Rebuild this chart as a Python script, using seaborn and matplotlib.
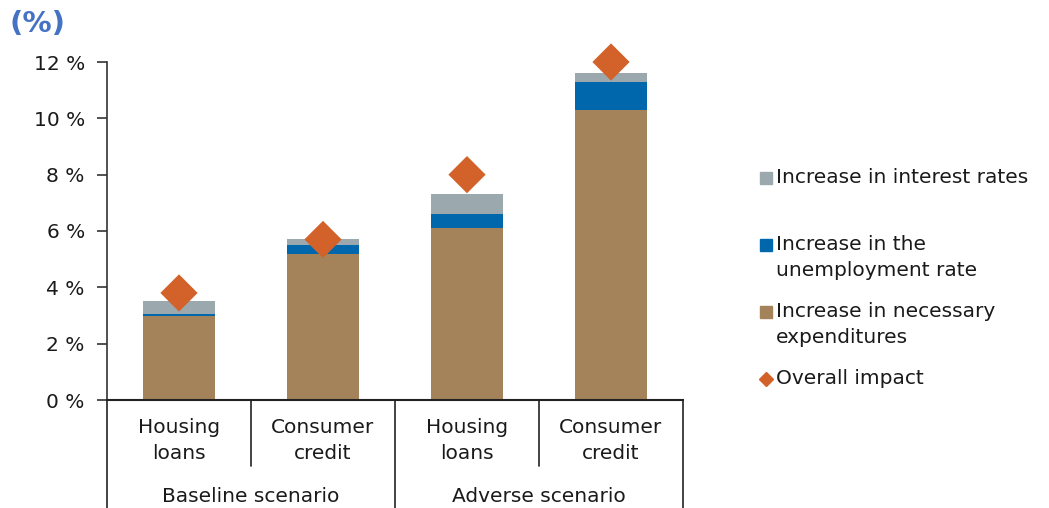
import matplotlib
matplotlib.use("Agg")
import matplotlib.pyplot as plt
import seaborn as sns
import pandas as pd
import numpy as np
from matplotlib.lines import Line2D

sns.set_theme(style="white")
plt.rcParams['font.family'] = ['DejaVu Sans']

categories = ["Housing\nloans", "Consumer\ncredit", "Housing\nloans ", "Consumer\ncredit "]
groups = ["Baseline scenario", "Adverse scenario"]
necessary = [3.0, 5.2, 6.1, 10.3]
unemployment = [0.07, 0.3, 0.5, 1.0]
interest = [0.43, 0.2, 0.7, 0.3]
overall = [3.8, 5.7, 8.0, 12.0]
yticks = [0, 2, 4, 6, 8, 10, 12]

col_int = "#9BA8AE"
col_unemp = "#0067AC"
col_nec = "#A5835A"
col_all = "#D2622A"

df = pd.DataFrame({
    "cat": categories,
    "nec": necessary,
    "nec_unemp": np.array(necessary) + np.array(unemployment),
    "total": np.array(necessary) + np.array(unemployment) + np.array(interest),
    "overall": overall,
})

FS = 14.5
TXT = "#1a1a1a"

fig = plt.figure(figsize=(10.49, 5.08), dpi=100)
ax = fig.add_axes([107/1049, 1-400/508, (683-107)/1049, (400-62)/508])

for col, c in [("total", col_int), ("nec_unemp", col_unemp), ("nec", col_nec)]:
    sns.barplot(data=df, x="cat", y=col, color=c, saturation=1, width=0.5,
                linewidth=0, ax=ax)
sns.scatterplot(data=df, x="cat", y="overall", marker="D", s=360, color=col_all,
                edgecolor="none", ax=ax, zorder=5, clip_on=False)

ax.set_xlim(-0.5, 3.5)
ax.set_ylim(0, 12)
ax.set_yticks(yticks)
ax.set_yticklabels([f"{v} %" for v in yticks], fontsize=FS, color=TXT)
ax.tick_params(axis="y", direction="out", length=7, width=1.2, color="#333333", pad=9, left=True)
ax.set_xticks([])
ax.set_xlabel("")
ax.set_ylabel("")
for s in ["top", "right"]:
    ax.spines[s].set_visible(False)
ax.spines["left"].set_color("#333333")
ax.spines["bottom"].set_color("#222222")
ax.spines["left"].set_linewidth(1.2)
ax.spines["bottom"].set_linewidth(1.5)

# category labels and separators
trans = ax.get_xaxis_transform()
for i, c in enumerate(categories):
    ax.text(i, -18/338, c.strip(), transform=trans, ha="center", va="top",
            fontsize=FS, linespacing=1.45, color=TXT)
for i, g in enumerate(groups):
    ax.text(2*i + 0.5, -96/338, g, transform=trans, ha="center", va="center",
            fontsize=FS, color=TXT)
for xb in [-0.5, 1.5, 3.5]:
    ax.add_line(Line2D([xb, xb], [0, -108/338], transform=trans, color="#222222",
                       lw=1.2, clip_on=False))
for xb in [0.5, 2.5]:
    ax.add_line(Line2D([xb, xb], [0, -66/338], transform=trans, color="#222222",
                       lw=1.2, clip_on=False))

# title
fig.text(9/1049, 1-24/508, "(%)", fontsize=21, fontweight="bold", color="#4472C4",
         ha="left", va="center")

# legend (manual)
entries = [
    ("Increase in interest rates", col_int, "s", 178),
    ("Increase in the\nunemployment rate", col_unemp, "s", 245),
    ("Increase in necessary\nexpenditures", col_nec, "s", 312),
    ("Overall impact", col_all, "D", 379),
]
for lab, col, mk, ypx in entries:
    fig.add_artist(Line2D([766/1049], [1-ypx/508], marker=mk, color=col,
                          markersize=9 if mk == "s" else 7.5, linestyle="none",
                          transform=fig.transFigure))
    fig.text(776/1049, 1-(ypx-10)/508, lab, fontsize=FS, ha="left", va="top",
             linespacing=1.45, color=TXT)

fig.savefig("out.png", dpi=100)
